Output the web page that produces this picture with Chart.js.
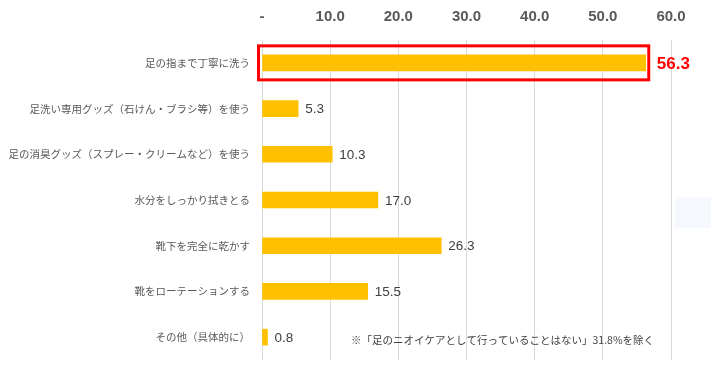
<!DOCTYPE html>
<html><head><meta charset="utf-8">
<script src="https://cdn.jsdelivr.net/npm/chart.js@4/dist/chart.umd.min.js"></script>
<style>html,body{margin:0;padding:0;background:#fff;}#wrap{position:relative;width:711px;height:365px;}</style>
</head><body>
<div id="wrap"><canvas id="c" width="711" height="365"></canvas></div>
<script>
const categories = ['足の指まで丁寧に洗う','足洗い専用グッズ（石けん・ブラシ等）を使う','足の消臭グッズ（スプレー・クリームなど）を使う','水分をしっかり拭きとる','靴下を完全に乾かす','靴をローテーションする','その他（具体的に）'];
const values = [56.3, 5.3, 10.3, 17.0, 26.3, 15.5, 0.8];
const tickValues = [0, 10, 20, 30, 40, 50, 60];
const highlightIndex = 0;
const footnote = '※「足のニオイケアとして行っていることはない」31.8%を除く';

const overlay = {
  id: 'overlay',
  afterDatasetsDraw(chart) {
    const ctx = chart.ctx;
    const meta = chart.getDatasetMeta(0);
    const ca = chart.chartArea;
    ctx.save();
    meta.data.forEach((bar, i) => {
      const v = values[i];
      ctx.textBaseline = 'middle';
      ctx.textAlign = 'left';
      if (i === highlightIndex) {
        ctx.strokeStyle = '#FF0000';
        ctx.lineWidth = 3;
        ctx.strokeRect(ca.left - 3.5, bar.y - 17, bar.x - ca.left + 6.5, 34);
        ctx.fillStyle = '#FF0000';
        ctx.font = 'bold 17px "Liberation Sans", Arial, sans-serif';
        ctx.fillText(v.toFixed(1), bar.x + 11, bar.y + 1);
      } else {
        ctx.fillStyle = '#404040';
        ctx.font = '13.5px "Liberation Sans", Arial, sans-serif';
        ctx.fillText(v.toFixed(1), bar.x + 7, bar.y + 1);
      }
    });
    ctx.fillStyle = '#404040';
    ctx.font = '10.5px "Noto Sans CJK JP", sans-serif';
    ctx.textAlign = 'left';
    ctx.textBaseline = 'middle';
    ctx.fillText(footnote, 351, 340);
    ctx.fillStyle = 'rgba(235,241,250,0.5)';
    ctx.fillRect(675, 197, 36, 31);
    ctx.restore();
  }
};

new Chart(document.getElementById('c'), {
  type: 'bar',
  data: {
    labels: categories,
    datasets: [{ data: values, backgroundColor: '#FFC000', borderWidth: 0, barThickness: 16 }]
  },
  options: {
    indexAxis: 'y',
    responsive: false,
    animation: false,
    layout: { padding: { left: 0, right: 40, top: 1, bottom: 5 } },
    plugins: { legend: { display: false }, tooltip: { enabled: false } },
    scales: {
      x: {
        position: 'top',
        min: 0, max: 60,
        afterBuildTicks(scale) { scale.ticks = tickValues.map(v => ({ value: v })); },
        afterFit(scale) { scale.height = 39; },
        grid: { color: '#D9D9D9', drawTicks: false, lineWidth: 1 },
        border: { display: false },
        ticks: {
          padding: 14,
          color: '#595959',
          font: { family: '"Liberation Sans", Arial, sans-serif', size: 15, weight: 'bold' },
          callback: (v) => v === 0 ? '-' : Number(v).toFixed(1)
        }
      },
      y: {
        afterFit(scale) { scale.width = 262; scale.paddingTop = 0; scale.paddingBottom = 0; },
        grid: { display: false, drawTicks: false },
        border: { display: false },
        ticks: {
          padding: 12,
          color: '#595959',
          font: { family: '"Noto Sans CJK JP", sans-serif', size: 10.5 }
        }
      }
    }
  },
  plugins: [overlay]
});
</script>
</body></html>
